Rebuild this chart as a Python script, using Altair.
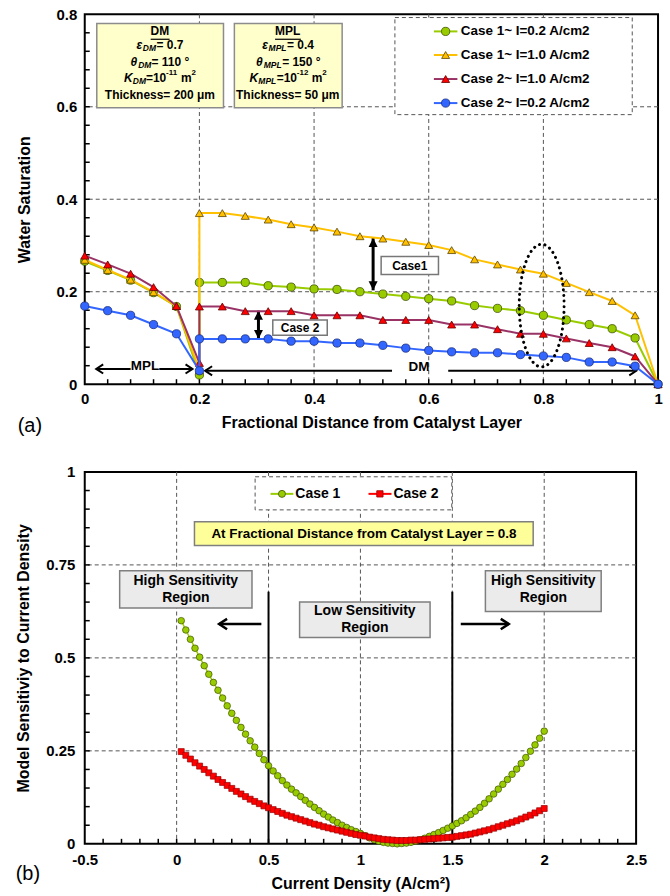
import altair as alt
import pandas as pd

FONT = "Liberation Sans"

# ================= Panel (a): water saturation profiles =================
MPL_X = [0.0, 0.04, 0.08, 0.12, 0.16, 0.2]
DM_X = [0.2, 0.24, 0.28, 0.32, 0.36, 0.4, 0.44, 0.48, 0.52, 0.56, 0.6,
        0.64, 0.68, 0.72, 0.76, 0.8, 0.84, 0.88, 0.92, 0.96, 1.0]
SERIES_A = ["Case 1~ I=0.2 A/cm2", "Case 1~ I=1.0 A/cm2",
            "Case 2~ I=1.0 A/cm2", "Case 2~ I=0.2 A/cm2"]

C1_I02_MPL = [0.266, 0.246, 0.225, 0.198, 0.168, 0.020]
C1_I02_DM = [0.220, 0.220, 0.220, 0.213, 0.210, 0.206, 0.205, 0.200, 0.195, 0.190, 0.185,
             0.180, 0.170, 0.164, 0.159, 0.149, 0.139, 0.129, 0.120, 0.100, 0.0]
C1_I10_MPL = [0.269, 0.247, 0.226, 0.199, 0.169, 0.030]
C1_I10_DM = [0.370, 0.370, 0.364, 0.356, 0.346, 0.339, 0.330, 0.320, 0.315, 0.308, 0.301,
             0.290, 0.270, 0.259, 0.248, 0.239, 0.219, 0.199, 0.180, 0.149, 0.0]
C2_I10_MPL = [0.278, 0.259, 0.239, 0.210, 0.169, 0.046]
C2_I10_DM = [0.168, 0.168, 0.158, 0.158, 0.158, 0.149, 0.149, 0.149, 0.139, 0.139, 0.139,
             0.129, 0.129, 0.119, 0.109, 0.109, 0.099, 0.089, 0.080, 0.060, 0.0]
C2_I02_MPL = [0.169, 0.159, 0.149, 0.129, 0.109, 0.029]
C2_I02_DM = [0.098, 0.098, 0.098, 0.098, 0.093, 0.093, 0.089, 0.089, 0.084, 0.078, 0.073,
             0.070, 0.068, 0.068, 0.064, 0.061, 0.058, 0.048, 0.048, 0.039, 0.0]

MPL_LISTS = [C1_I02_MPL, C1_I10_MPL, C2_I10_MPL, C2_I02_MPL]
DM_LISTS = [C1_I02_DM, C1_I10_DM, C2_I10_DM, C2_I02_DM]

# ================= Panel (b): model sensitivity =================
XB = [0.025, 0.05, 0.075, 0.1, 0.125, 0.15, 0.175, 0.2, 0.225, 0.25,
      0.275, 0.3, 0.325, 0.35, 0.375, 0.4, 0.425, 0.45, 0.475, 0.5,
      0.525, 0.55, 0.575, 0.6, 0.625, 0.65, 0.675, 0.7, 0.725, 0.75,
      0.775, 0.8, 0.825, 0.85, 0.875, 0.9, 0.925, 0.95, 0.975, 1.0,
      1.025, 1.05, 1.075, 1.1, 1.125, 1.15, 1.175, 1.2, 1.225, 1.25,
      1.275, 1.3, 1.325, 1.35, 1.375, 1.4, 1.425, 1.45, 1.475, 1.5,
      1.525, 1.55, 1.575, 1.6, 1.625, 1.65, 1.675, 1.7, 1.725, 1.75,
      1.775, 1.8, 1.825, 1.85, 1.875, 1.9, 1.925, 1.95, 1.975, 2.0]
CASE1 = [0.600, 0.575, 0.550, 0.526, 0.502, 0.479, 0.456, 0.434, 0.413, 0.392,
         0.371, 0.351, 0.332, 0.313, 0.295, 0.277, 0.260, 0.243, 0.226, 0.210,
         0.196, 0.183, 0.170, 0.158, 0.147, 0.137, 0.127, 0.117, 0.107, 0.098,
         0.089, 0.080, 0.072, 0.064, 0.057, 0.050, 0.044, 0.038, 0.033, 0.028,
         0.022, 0.016, 0.011, 0.007, 0.004, 0.002, 0.001, 0.000, 0.001, 0.002,
         0.004, 0.007, 0.011, 0.015, 0.020, 0.025, 0.030, 0.036, 0.042, 0.048,
         0.055, 0.062, 0.070, 0.079, 0.088, 0.098, 0.109, 0.121, 0.134, 0.147,
         0.160, 0.173, 0.187, 0.201, 0.216, 0.232, 0.249, 0.266, 0.284, 0.303]
CASE2 = [0.248, 0.238, 0.228, 0.218, 0.209, 0.200, 0.191, 0.182, 0.173, 0.165,
         0.157, 0.149, 0.141, 0.134, 0.127, 0.120, 0.114, 0.108, 0.102, 0.097,
         0.092, 0.087, 0.082, 0.077, 0.073, 0.069, 0.065, 0.061, 0.057, 0.053,
         0.050, 0.046, 0.043, 0.040, 0.037, 0.034, 0.031, 0.028, 0.025, 0.023,
         0.021, 0.018, 0.016, 0.014, 0.012, 0.011, 0.010, 0.009, 0.009, 0.009,
         0.010, 0.010, 0.011, 0.012, 0.013, 0.014, 0.015, 0.016, 0.017, 0.018,
         0.020, 0.022, 0.024, 0.026, 0.029, 0.032, 0.035, 0.038, 0.042, 0.046,
         0.050, 0.054, 0.058, 0.062, 0.067, 0.072, 0.077, 0.083, 0.089, 0.095]
SERIES_B = ["Case 1", "Case 2"]

# ================= axes / ticks =================
XA_TICKS = [0, 0.2, 0.4, 0.6, 0.8, 1]
YA_TICKS = [0, 0.2, 0.4, 0.6, 0.8]
XB_TICKS = [-0.5, 0, 0.5, 1, 1.5, 2, 2.5]
YB_TICKS = [0, 0.25, 0.5, 0.75, 1]
XA_GRID = [0.2, 0.4, 0.6, 0.8]
YA_GRID = [0.2, 0.4, 0.6]
XB_GRID = [0, 0.5, 1, 1.5, 2]
YB_GRID = [0.25, 0.5, 0.75]
XA_MINOR = [round(0.04 * k, 2) for k in range(1, 25)]
YA_MINOR = [round(0.04 * k, 2) for k in range(1, 20)]
XB_MINOR = [round(-0.5 + 0.1 * k, 1) for k in range(1, 30)]
YB_MINOR = [round(0.05 * k, 2) for k in range(1, 20)]

W1, H1 = 575, 371
W2, H2 = 553, 373


def axis(values, title, lp, tp):
    return alt.Axis(values=values, title=title, labelExpr="datum.value + ''",
                    grid=False, ticks=False, domain=False, labelFlush=False,
                    labelOverlap=False, labelPadding=lp, titlePadding=tp)


PANEL = {
    "a": dict(
        sx=alt.Scale(domain=[0, 1], nice=False, zero=False),
        sy=alt.Scale(domain=[0, 0.8], nice=False, zero=False),
        ax=axis(XA_TICKS, "Fractional Distance from Catalyst Layer", 7, 8),
        ay=axis(YA_TICKS, "Water Saturation", 8, 24)),
    "b": dict(
        sx=alt.Scale(domain=[-0.5, 2.5], nice=False, zero=False),
        sy=alt.Scale(domain=[0, 1], nice=False, zero=False),
        ax=axis(XB_TICKS, "Current Density (A/cm²)", 9, 8),
        ay=axis(YB_TICKS, "Model Sensitiviy to Current Density", 10, 14)),
}


def ex(p, f="x"):
    return alt.X(f + ":Q", scale=PANEL[p]["sx"], axis=PANEL[p]["ax"])


def ey(p, f="y"):
    return alt.Y(f + ":Q", scale=PANEL[p]["sy"], axis=PANEL[p]["ay"])


def df(**cols):
    return pd.DataFrame(cols)


def rects(d, p, fill, stroke, sw=1.5, dash=None):
    kw = dict(fill=fill, stroke=stroke, strokeWidth=sw)
    if dash:
        kw["strokeDash"] = dash
    return alt.Chart(d).mark_rect(**kw).encode(x=ex(p), x2="x2:Q", y=ey(p), y2="y2:Q")


def texts(d, p, align="center", italic=False):
    kw = dict(font=FONT, fontWeight="bold", align=align, baseline="middle", color="black")
    if italic:
        kw["fontStyle"] = "italic"
    return alt.Chart(d).mark_text(**kw).encode(
        x=ex(p), y=ey(p), text="t:N", size=alt.Size("s:Q", scale=None))


def segs(d, p, color="black", sw=2.0):
    return alt.Chart(d).mark_rule(color=color, strokeWidth=sw).encode(
        x=ex(p), x2="x2:Q", y=ey(p), y2="y2:Q")


def symbols(d, p, shape, size, filled, color="black", sw=2.0):
    return alt.Chart(d).mark_point(shape=shape, size=size, filled=filled, color=color,
                                   opacity=1, strokeWidth=sw).encode(x=ex(p), y=ey(p))


def markers(d, p, shape, size, fill, edge, sw=0.8):
    return alt.Chart(d).mark_point(shape=shape, size=size, filled=True, fill=fill, stroke=edge,
                                   strokeWidth=sw, opacity=1).encode(x=ex(p), y=ey(p))


def grid_x(vals, p):
    return alt.Chart(df(x=vals)).mark_rule(color="#555555", strokeWidth=1, strokeDash=[4, 3]).encode(
        x=ex(p))


def grid_y(vals, p):
    return alt.Chart(df(y=vals)).mark_rule(color="#555555", strokeWidth=1, strokeDash=[4, 3]).encode(
        y=ey(p))


def minor_x(vals, p, h):
    return alt.Chart(df(x=vals)).mark_rule(color="black", strokeWidth=1.5).encode(
        x=ex(p), y=alt.value(h), y2=alt.value(h - 5))


def minor_y(vals, p):
    return alt.Chart(df(y=vals)).mark_rule(color="black", strokeWidth=1.5).encode(
        y=ey(p), x=alt.value(0), x2=alt.value(5))


LEFT_OPEN = "M 2 -1.3 L 0 0 L 2 1.3"
RIGHT_OPEN = "M -2 -1.3 L 0 0 L -2 1.3"
UP_FILLED = "M 0 0 L -1 2 L 1 2 Z"
DOWN_FILLED = "M 0 0 L -1 -2 L 1 -2 Z"
ELLIPSE = "M -0.366 0 A 0.366 1 0 1 1 0.366 0 A 0.366 1 0 1 1 -0.366 0 Z"

STYLES_A = [
    dict(line="#99CC00", fill="#99CC00", edge="#3F5200", shape="circle", size=68),
    dict(line="#FFC000", fill="#FFC000", edge="#5C4500", shape="triangle-up", size=64),
    dict(line="#993366", fill="#FF0000", edge="#660000", shape="triangle-up", size=64),
    dict(line="#3366FF", fill="#3366FF", edge="#1A2F80", shape="circle", size=68),
]

# ---------------- panel (a) layers ----------------
layers_a = [grid_x(XA_GRID, "a"), grid_y(YA_GRID, "a"),
            minor_x(XA_MINOR, "a", H1), minor_y(YA_MINOR, "a")]

# property boxes
layers_a.append(rects(df(x=[0.021, 0.261], x2=[0.242, 0.449], y=[0.598, 0.598], y2=[0.78, 0.78]),
                      "a", "#FFFFCC", "#8C8C8C"))
layers_a.append(texts(df(x=[0.131, 0.131, 0.354, 0.354], y=[0.764, 0.626, 0.764, 0.626],
                         t=["DM", "Thickness= 200 μm", "MPL", "Thickness= 50 μm"],
                         s=[12, 12, 12, 12]), "a"))
layers_a.append(segs(df(x=[0.115, 0.332], x2=[0.148, 0.377], y=[0.746, 0.746], y2=[0.746, 0.746]),
                     "a", sw=1.2))
layers_a.append(texts(df(
    x=[0.0901, 0.1013, 0.0797, 0.0932, 0.0683, 0.0838,
       0.3096, 0.3207, 0.2988, 0.3123, 0.2873, 0.3028],
    y=[0.733, 0.727, 0.696, 0.690, 0.662, 0.656,
       0.733, 0.727, 0.696, 0.690, 0.662, 0.656],
    t=["ε", "DM", "θ", "DM", "K", "DM", "ε", "MPL", "θ", "MPL", "K", "MPL"],
    s=[12, 8.5, 12, 8.5, 12, 8.5, 12, 8.5, 12, 8.5, 12, 8.5]), "a", align="left", italic=True))
layers_a.append(texts(df(
    x=[0.1252, 0.1165, 0.1068, 0.1419, 0.1678, 0.1864,
       0.3527, 0.3443, 0.3348, 0.3699, 0.3958, 0.4144],
    y=[0.733, 0.696, 0.662, 0.672, 0.662, 0.672,
       0.733, 0.696, 0.662, 0.672, 0.662, 0.672],
    t=["= 0.7", "= 110 °", "=10", "-11", "m", "2",
       "= 0.4", "= 150 °", "=10", "-12", "m", "2"],
    s=[12, 12, 12, 8, 12, 8, 12, 12, 12, 8, 12, 8]), "a", align="left"))

# legend box
LEG_Y_A = [0.763, 0.712, 0.660, 0.608]
layers_a.append(rects(df(x=[0.541], x2=[0.955], y=[0.583], y2=[0.793]), "a",
                      "white", "#555555", sw=1, dash=[4, 3]))
for st, ly in zip(STYLES_A, LEG_Y_A):
    layers_a.append(segs(df(x=[0.609], x2=[0.650], y=[ly], y2=[ly]), "a", color=st["line"], sw=2))
    layers_a.append(markers(df(x=[0.6295], y=[ly]), "a", st["shape"], st["size"], st["fill"], st["edge"]))
layers_a.append(texts(df(x=[0.656] * 4, y=LEG_Y_A, t=SERIES_A, s=[13.5] * 4), "a", align="left"))

# arrows MPL / DM along the bottom
layers_a.append(segs(df(x=[0.02, 0.13, 0.21, 0.634], x2=[0.08, 0.188, 0.536, 0.962],
                        y=[0.033, 0.033, 0.029, 0.029], y2=[0.033, 0.033, 0.029, 0.029]), "a", sw=2))
layers_a.append(symbols(df(x=[0.02, 0.21], y=[0.033, 0.029]), "a", LEFT_OPEN, 49, False))
layers_a.append(symbols(df(x=[0.188, 0.962], y=[0.033, 0.029]), "a", RIGHT_OPEN, 49, False))
layers_a.append(texts(df(x=[0.105, 0.583], y=[0.039, 0.038], t=["MPL", "DM"], s=[13.5, 13.5]), "a"))

# case labels with double arrows
layers_a.append(rects(df(x=[0.517, 0.328], x2=[0.617, 0.423], y=[0.237, 0.106], y2=[0.276, 0.139]),
                      "a", "white", "#777777"))
layers_a.append(texts(df(x=[0.567, 0.3755], y=[0.2565, 0.1225], t=["Case1", "Case 2"], s=[12, 12]), "a"))
layers_a.append(segs(df(x=[0.503, 0.303], x2=[0.503, 0.303], y=[0.203, 0.098], y2=[0.316, 0.159]),
                     "a", sw=3))
layers_a.append(symbols(df(x=[0.503, 0.303], y=[0.316, 0.159]), "a", UP_FILLED, 81, True))
layers_a.append(symbols(df(x=[0.503, 0.303], y=[0.203, 0.098]), "a", DOWN_FILLED, 81, True))

# series
for st, m, d in zip(STYLES_A, MPL_LISTS, DM_LISTS):
    sd = df(x=MPL_X + DM_X, y=m + d, i=list(range(len(m) + len(d))))
    layers_a.append(alt.Chart(sd).mark_line(color=st["line"], strokeWidth=2).encode(
        x=ex("a"), y=ey("a"), order="i:Q"))
    layers_a.append(markers(sd, "a", st["shape"], st["size"], st["fill"], st["edge"]))

# dotted ellipse at x = 0.8
layers_a.append(alt.Chart(df(x=[0.797], y=[0.17])).mark_point(
    shape=ELLIPSE, size=15129, filled=False, color="black", strokeWidth=3,
    strokeDash=[0.1, 5.5], strokeCap="round", opacity=1).encode(x=ex("a"), y=ey("a")))

layers_a.append(alt.Chart(df(t=["(a)"])).mark_text(
    font=FONT, fontSize=20, align="center", baseline="middle", color="black").encode(
    text="t:N", x=alt.value(-55), y=alt.value(H1 + 42)))

top = alt.layer(*layers_a).properties(width=W1, height=H1)

# ---------------- panel (b) layers ----------------
layers_b = [grid_x(XB_GRID, "b"), grid_y(YB_GRID, "b"),
            minor_x(XB_MINOR, "b", H2), minor_y(YB_MINOR, "b")]

# legend
layers_b.append(rects(df(x=[0.427], x2=[1.497], y=[0.898], y2=[0.987]), "b",
                      "white", "#555555", sw=1, dash=[4, 3]))
layers_b.append(segs(df(x=[0.511], x2=[0.635], y=[0.941], y2=[0.941]), "b", color="#99CC00", sw=2))
layers_b.append(segs(df(x=[1.044], x2=[1.169], y=[0.941], y2=[0.941]), "b", color="#FF0000", sw=2))
layers_b.append(markers(df(x=[0.573], y=[0.941]), "b", "circle", 50, "#99CC00", "#3F5200"))
layers_b.append(markers(df(x=[1.106], y=[0.941]), "b", "square", 40, "#FF0000", "#990000"))
layers_b.append(texts(df(x=[0.646, 1.180], y=[0.941, 0.941], t=SERIES_B, s=[14, 14]), "b", align="left"))

# note + region boxes
layers_b.append(rects(df(x=[0.097], x2=[1.94], y=[0.802], y2=[0.866]), "b", "#FFFF99", "#7F7F7F"))
layers_b.append(texts(df(x=[1.019], y=[0.834], t=["At Fractional Distance from Catalyst Layer = 0.8"],
                         s=[13.5]), "b"))
layers_b.append(rects(df(x=[-0.31, 1.68, 0.669], x2=[0.41, 2.31, 1.379],
                         y=[0.634, 0.625, 0.555], y2=[0.734, 0.734, 0.650]),
                      "b", "#EBEBEB", "#7F7F7F"))
layers_b.append(texts(df(x=[0.05, 0.05, 1.995, 1.995, 1.024, 1.024],
                         y=[0.708, 0.662, 0.708, 0.660, 0.627, 0.580],
                         t=["High Sensitivity", "Region", "High Sensitivity", "Region",
                            "Low Sensitivity", "Region"],
                         s=[14] * 6), "b"))
layers_b.append(segs(df(x=[0.5, 1.5], x2=[0.5, 1.5], y=[0, 0], y2=[0.678, 0.678]), "b", sw=2))
layers_b.append(segs(df(x=[0.231, 1.546], x2=[0.461, 1.807], y=[0.591, 0.591], y2=[0.591, 0.591]),
                     "b", sw=2.5))
layers_b.append(symbols(df(x=[0.231], y=[0.591]), "b", LEFT_OPEN, 64, False, sw=2.5))
layers_b.append(symbols(df(x=[1.807], y=[0.591]), "b", RIGHT_OPEN, 64, False, sw=2.5))

# series
d1 = df(x=XB, y=CASE1)
d2 = df(x=XB, y=CASE2)
layers_b.append(alt.Chart(d1).mark_line(color="#99CC00", strokeWidth=1.5).encode(x=ex("b"), y=ey("b")))
layers_b.append(markers(d1, "b", "circle", 44, "#99CC00", "#3F5200", sw=0.7))
layers_b.append(alt.Chart(d2).mark_line(color="#FF0000", strokeWidth=1.5).encode(x=ex("b"), y=ey("b")))
layers_b.append(markers(d2, "b", "square", 36, "#FF0000", "#990000", sw=0.7))

layers_b.append(alt.Chart(df(t=["(b)"])).mark_text(
    font=FONT, fontSize=20, align="center", baseline="middle", color="black").encode(
    text="t:N", x=alt.value(-57), y=alt.value(H2 + 30)))

bottom = alt.layer(*layers_b).properties(width=W2, height=H2)

chart = alt.vconcat(top, bottom, spacing=27).properties(
    padding={"left": 14, "top": 5, "right": 5, "bottom": 5}
).configure_view(stroke="black", strokeWidth=2).configure_axis(
    labelFont=FONT, labelFontSize=15, labelFontWeight="bold", labelColor="black",
    titleFont=FONT, titleFontSize=16, titleFontWeight="bold", titleColor="black")

chart.save("out.html", embed_options={"renderer": "svg", "actions": False})
